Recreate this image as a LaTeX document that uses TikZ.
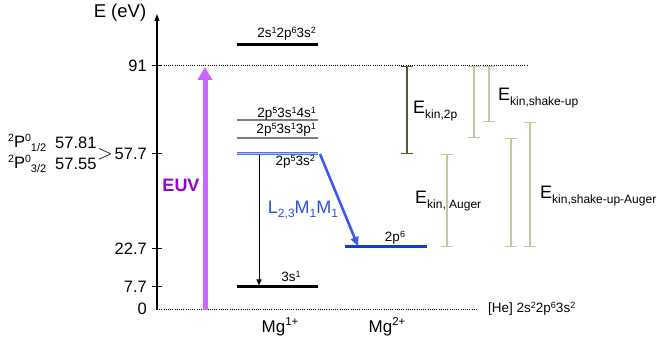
\documentclass[tikz,border=0pt]{standalone}
\usepackage{fontspec}
\setmainfont{Liberation Sans}
\usetikzlibrary{arrows.meta}
\newcommand{\supx}[1]{\raisebox{0.6ex}{\fontsize{9}{9}\selectfont #1}}
\newcommand{\supl}[1]{\raisebox{0.65ex}{\fontsize{10.5}{10.5}\selectfont #1}}
\newcommand{\supm}[1]{\raisebox{0.75ex}{\fontsize{11.5}{11.5}\selectfont #1}}
\newcommand{\subx}[1]{\raisebox{-0.45ex}{\fontsize{12}{12}\selectfont #1}}
\newcommand{\subs}[1]{\raisebox{-0.5ex}{\fontsize{11}{11}\selectfont #1}}
\definecolor{euvpurple}{RGB}{204,102,255}
\definecolor{euvtext}{RGB}{153,0,204}
\definecolor{augblue}{RGB}{60,90,240}
\definecolor{labblue}{RGB}{40,80,220}
\definecolor{deepblue}{RGB}{20,60,200}
\definecolor{lightblue}{RGB}{170,195,250}
\definecolor{midblue}{RGB}{80,115,235}
\definecolor{levgray}{RGB}{125,125,125}
\definecolor{olive}{RGB}{75,95,45}
\definecolor{tan}{RGB}{200,195,160}
\begin{document}
\begin{tikzpicture}[x=1pt,y=-1pt,
  axlab/.style={font=\fontsize{16.5}{18}\selectfont, inner sep=1pt},
  levlab/.style={font=\fontsize{13.5}{15}\selectfont, inner sep=1pt},
  ekin/.style={font=\fontsize{18}{20}\selectfont, inner sep=1pt, anchor=west},
  level/.style={line width=3pt},
  graylevel/.style={line width=2pt, levgray},
  tick/.style={line width=1pt},
  bar2p/.style={olive, line width=1.3pt, {Bar[width=12pt]}-{Bar[width=12pt]}},
  bartan/.style={tan, line width=1.3pt, {Bar[width=12pt]}-{Bar[width=12pt]}},
  dotline/.style={line width=1pt, dash pattern=on 1pt off 1.2pt}
]
\useasboundingbox (0,0) rectangle (657,344);

% axis
\coordinate (axb) at (157,310);
\coordinate (axt) at (157,14);
\draw[line width=1.1pt, -{Triangle[length=7pt,width=5pt]}] (axb) -- (axt);
\node[axlab, font=\fontsize{18.5}{20}\selectfont] (elab) at (120,13) {E (eV)};

% ticks
\foreach \yy/\nm in {66/t91,154/t577,249/t227,287/t77}{
  \coordinate (\nm l) at (152,\yy);
  \coordinate (\nm r) at (162,\yy);
  \draw[tick] (\nm l) -- (\nm r);
}
\node[axlab, anchor=east] (l91) at (148,66) {91};
\node[axlab, anchor=east] (l577) at (148,154) {57.7};
\node[axlab, anchor=east] (l227) at (148,249) {22.7};
\node[axlab, anchor=east] (l77) at (148,287) {7.7};
\node[axlab, anchor=east] (l0) at (148,309) {0};
\node[axlab, font=\fontsize{21}{21}\selectfont] (gt) at (105,154) {$>$};

% left term labels
\node[axlab, anchor=west] (p12) at (7,143) {\supl{2}P\supl{0}\subs{1/2}};
\node[axlab, anchor=west] (p12v) at (54,143) {57.81};
\node[axlab, anchor=west] (p32) at (7,164) {\supl{2}P\supl{0}\subs{3/2}};
\node[axlab, anchor=west] (p32v) at (54,164) {57.55};

% dotted lines
\coordinate (d91a) at (157,66);
\coordinate (d91b) at (528,66);
\draw[dotline] (d91a) -- (d91b);
\coordinate (d0a) at (157,310);
\coordinate (d0b) at (478,310);
\draw[dotline] (d0a) -- (d0b);
\node[levlab] [anchor=west] (he) at (487,309) {[He] 2s\supx{2}2p\supx{6}3s\supx{2}};

% EUV arrow
\coordinate (euvb) at (205,310);
\coordinate (euvt) at (205,67);
\draw[euvpurple, line width=5pt, -{Triangle[length=13pt,width=14pt]}] (euvb) -- (euvt);
\node[font=\bfseries\fontsize{18}{20}\selectfont, text=euvtext, inner sep=0pt] (euv) at (181,185) {EUV};

% Mg1+ levels
\coordinate (a1) at (237,45); \coordinate (a2) at (318,45);
\draw[level] (a1) -- (a2);
\node[levlab, anchor=base east] (la) at (317,38) {2s\supx{1}2p\supx{6}3s\supx{2}};

\coordinate (b1) at (237,120); \coordinate (b2) at (318,120);
\draw[graylevel] (b1) -- (b2);
\node[levlab, anchor=base east] (lb) at (317,117.5) {2p\supx{5}3s\supx{1}4s\supx{1}};

\coordinate (c1) at (237,138); \coordinate (c2) at (318,138);
\draw[graylevel] (c1) -- (c2);
\node[levlab, anchor=base east] (lc) at (317,134) {2p\supx{5}3s\supx{1}3p\supx{1}};

\coordinate (d1) at (237,153.5); \coordinate (d2) at (318,153.5);
\draw[midblue, line width=1pt, double=lightblue, double distance=1.2pt] (d1) -- (d2);
\node[levlab, anchor=base east] (ld) at (316,166) {2p\supx{5}3s\supx{2}};

\coordinate (e1) at (237,287); \coordinate (e2) at (318,287);
\draw[level] (e1) -- (e2);
\node[levlab, anchor=base] (le) at (291,282) {3s\supx{1}};

% downward black arrow
\coordinate (kt) at (259,155);
\coordinate (kb) at (259,285.5);
\draw[line width=0.9pt, -{Triangle[length=6pt,width=5pt]}] (kt) -- (kb);

% Mg2+ level
\coordinate (f1) at (345,247); \coordinate (f2) at (427,247);
\draw[deepblue, line width=3pt] (f1) -- (f2);
\node[levlab, anchor=base] (lf) at (395,241.5) {2p\supx{6}};

% Auger arrow
\coordinate (ga) at (320,154);
\coordinate (gb) at (358,246);
\draw[augblue, line width=2.6pt, -{Triangle[length=9pt,width=8pt]}] (ga) -- (gb);
\node[font=\fontsize{18}{20}\selectfont, text=labblue, inner sep=0pt] (lmm) at (303,210) {L\subx{2,3}M\subx{1}M\subx{1}};

% species labels
\node[axlab, font=\fontsize{17}{18}\selectfont] (mg1) at (280,327) {Mg\supm{1+}};
\node[axlab, font=\fontsize{17}{18}\selectfont] (mg2) at (387,327) {Mg\supm{2+}};

% kinetic energy bars
\coordinate (k2pa) at (407,66); \coordinate (k2pb) at (407,154);
\draw[bar2p] (k2pa) -- (k2pb);
\node[ekin] (e2p) at (412,111) {E\subx{kin,2p}};

\coordinate (s1a) at (474,66); \coordinate (s1b) at (474,138);
\draw[bartan] (s1a) -- (s1b);
\coordinate (s2a) at (489,66); \coordinate (s2b) at (489,122);
\draw[bartan] (s2a) -- (s2b);
\node[ekin] (esu) at (497,98) {E\subx{kin,shake-up}};

\coordinate (aua) at (447,154); \coordinate (aub) at (447,247);
\draw[bartan] (aua) -- (aub);
\node[ekin] (eau) at (414,201) {E\subx{kin, Auger}};

\coordinate (sa1a) at (511,138); \coordinate (sa1b) at (511,247);
\draw[bartan] (sa1a) -- (sa1b);
\coordinate (sa2a) at (530,122); \coordinate (sa2b) at (530,247);
\draw[bartan] (sa2a) -- (sa2b);
\node[ekin] (esua) at (539,196) {E\subx{kin,shake-up-Auger}};
\end{tikzpicture}
\end{document}
